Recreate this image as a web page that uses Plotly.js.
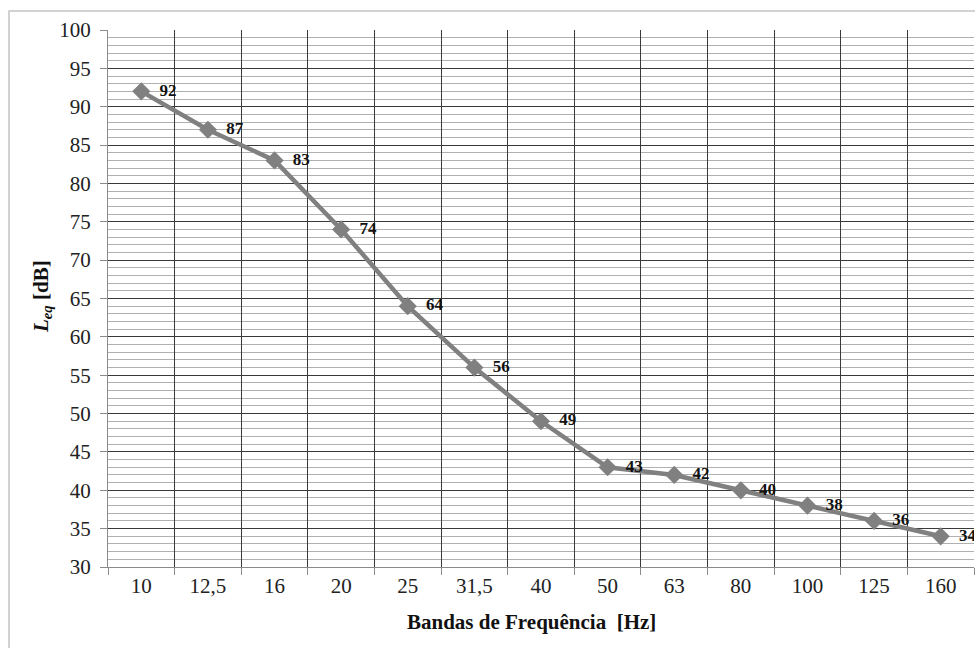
<!DOCTYPE html>
<html>
<head>
<meta charset="utf-8">
<script src="https://cdn.plot.ly/plotly-3.0.1.min.js"></script>
<style>html,body{margin:0;padding:0;background:#fff;}#chart{width:975px;height:648px;}</style>
</head>
<body>
<div id="chart"></div>
<script>
var bands = ["10", "12,5", "16", "20", "25", "31,5", "40", "50", "63", "80", "100", "125", "160"];
var leq = [92, 87, 83, 74, 64, 56, 49, 43, 42, 40, 38, 36, 34];
var yTicks = [30, 35, 40, 45, 50, 55, 60, 65, 70, 75, 80, 85, 90, 95, 100];

var SERIF = "'Liberation Serif', 'Times New Roman', Times, 'DejaVu Serif', serif";
var W = 975, H = 648;
var L = 108, R = 1, T = 30, B = 81;
var pw = W - L - R, ph = H - T - B;
function px(x) { return (x - L) / pw; }
function py(y) { return (H - B - y) / ph; }

var trace = {
  x: bands,
  y: leq,
  type: 'scatter',
  mode: 'lines+markers+text',
  text: leq.map(function (v) { return '\u00a0\u00a0' + v; }),
  textposition: 'middle right',
  textfont: {family: SERIF, size: 17, color: '#111', weight: 'bold'},
  line: {color: '#808080', width: 4.5},
  marker: {symbol: 'diamond', size: 14, color: '#808080'},
  cliponaxis: true,
  hoverinfo: 'none'
};

var layout = {
  width: W, height: H,
  margin: {l: L, r: R, t: T, b: B},
  paper_bgcolor: '#fff',
  plot_bgcolor: '#fff',
  showlegend: false,
  font: {family: SERIF, size: 21, color: '#222'},
  xaxis: {
    type: 'category',
    categoryorder: 'array',
    categoryarray: bands,
    range: [-0.5, bands.length - 0.5],
    tickson: 'boundaries',
    ticks: 'outside', ticklen: 7, tickcolor: '#8a8a8a', tickwidth: 1,
    showgrid: true, gridcolor: '#3a3a3a', gridwidth: 1,
    showline: true, linecolor: '#8a8a8a', linewidth: 1,
    zeroline: false,
    tickfont: {family: SERIF, size: 21, color: '#222'},
    fixedrange: true
  },
  yaxis: {
    range: [30, 100],
    tickmode: 'array',
    tickvals: yTicks,
    ticktext: yTicks.map(String),
    ticks: 'outside', ticklen: 7, tickcolor: '#8a8a8a', tickwidth: 1,
    showgrid: true, gridcolor: '#3a3a3a', gridwidth: 1,
    minor: {dtick: 1, showgrid: true, gridcolor: '#b0b0b0', gridwidth: 1, ticks: ''},
    showline: true, linecolor: '#8a8a8a', linewidth: 1,
    zeroline: false,
    tickfont: {family: SERIF, size: 21, color: '#222'},
    ticklabelstandoff: 5,
    fixedrange: true
  },
  shapes: [{
    type: 'rect', xref: 'paper', yref: 'paper',
    x0: px(9), x1: px(990), y0: py(660), y1: py(11),
    line: {color: '#c4c4c4', width: 1.5},
    fillcolor: 'rgba(0,0,0,0)',
    layer: 'below'
  }],
  annotations: [
    {
      xref: 'paper', yref: 'paper',
      x: px(531), y: py(622),
      xanchor: 'center', yanchor: 'middle',
      showarrow: false,
      text: '<b>Bandas de Frequência  [Hz]</b>',
      font: {family: SERIF, size: 21, color: '#111'}
    },
    {
      xref: 'paper', yref: 'paper',
      x: px(42), y: py(297),
      xanchor: 'center', yanchor: 'middle',
      showarrow: false,
      textangle: -90,
      text: '<b><i>L<sub>eq</sub></i> [dB]</b>',
      font: {family: SERIF, size: 21, color: '#111'}
    }
  ]
};

Plotly.newPlot('chart', [trace], layout, {displayModeBar: false, staticPlot: true});
</script>
</body>
</html>
